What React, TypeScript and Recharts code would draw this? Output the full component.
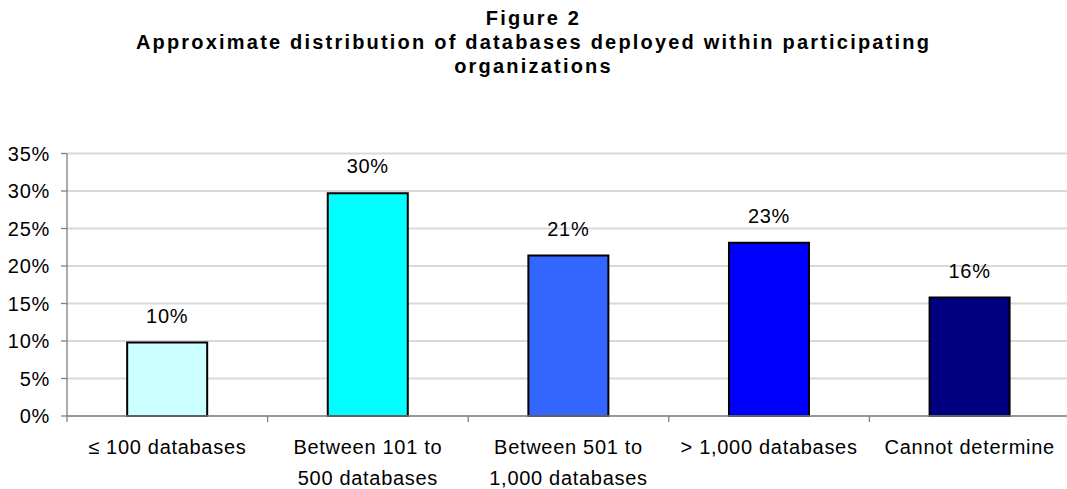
import React from "react";
import { BarChart, Bar, XAxis, YAxis, CartesianGrid, Cell, LabelList } from "recharts";

const titleLines = [
  "Figure 2",
  "Approximate distribution of databases deployed within participating",
  "organizations",
];
const categories = [
  "≤ 100 databases",
  "Between 101 to 500 databases",
  "Between 501 to 1,000 databases",
  "> 1,000 databases",
  "Cannot determine",
];
const categoryLines = [
  ["≤ 100 databases"],
  ["Between 101 to", "500 databases"],
  ["Between 501 to", "1,000 databases"],
  ["> 1,000 databases"],
  ["Cannot determine"],
];
const shares = [9.8, 29.7, 21.4, 23.1, 15.8];
const barColors = ["#CCFFFF", "#00FFFF", "#3366FF", "#0000FF", "#000080"];
const yTicks = [0, 5, 10, 15, 20, 25, 30, 35];

const data = categories.map((c, i) => ({ name: c, value: shares[i], lines: categoryLines[i] }));

const FONT = "'Liberation Sans', Arial, sans-serif";
const LS = 0.7;

const XTick = (props: any) => {
  const { x, y, payload, index } = props;
  const half = payload && payload.offset ? payload.offset : 100.3;
  const lines = categoryLines[index] || [String(payload.value)];
  return (
    <g>
      <line x1={x - half} x2={x - half} y1={y - 8} y2={y - 2} stroke="#808080" strokeWidth={1.3} />
      <text x={x} y={y} textAnchor="middle" fontFamily={FONT} fontSize={20} letterSpacing={LS} fill="#000">
        {lines.map((l: string, k: number) => (
          <tspan key={k} x={x} y={y + 30 + k * 31}>
            {l}
          </tspan>
        ))}
      </text>
    </g>
  );
};

export default function App() {
  return (
    <div style={{ position: "absolute", left: 0, top: 0, width: 1067, height: 489, overflow: "hidden", background: "#fff" }}>
      <div style={{ position: "absolute", left: 0, top: 0, width: 1067, textAlign: "center", fontFamily: FONT, fontWeight: "bold", fontSize: 20, lineHeight: "24px", paddingTop: 6, color: "#000", letterSpacing: 2.2 }}>
        {titleLines.map((t, i) => (
          <div key={i}>{t}</div>
        ))}
      </div>
      <div style={{ position: "absolute", left: 0, top: 0 }}>
        <BarChart
          width={1080}
          height={489}
          data={data}
          margin={{ top: 153.5, right: 10, left: 0, bottom: 0 }}
          barCategoryGap="30%"
        >
          <CartesianGrid vertical={false} stroke="#d9d9d9" strokeWidth={2} />
          <XAxis
            dataKey="name"
            height={73}
            axisLine={{ stroke: "#808080", strokeWidth: 1.3 }}
            tickLine={false}
            tick={<XTick />}
            interval={0}
          />
          <YAxis
            width={67}
            domain={[0, 35]}
            ticks={yTicks}
            interval={0}
            tickFormatter={(v: number) => `${v}%`}
            axisLine={{ stroke: "#808080", strokeWidth: 1.3 }}
            tickLine={{ stroke: "#808080", strokeWidth: 1.3 }}
            tickSize={6}
            tickMargin={11}
            tick={{ fontFamily: FONT, fontSize: 20, fill: "#000", letterSpacing: LS }}
          />
          <Bar dataKey="value" isAnimationActive={false} stroke="#000" strokeWidth={2}>
            {data.map((d, i) => (
              <Cell key={i} fill={barColors[i]} />
            ))}
            <LabelList
              dataKey="value"
              position="top"
              offset={20}
              formatter={(v: any) => `${Math.round(Number(v))}%`}
              style={{ fontFamily: FONT, fontSize: 20, fill: "#000", letterSpacing: LS }}
            />
          </Bar>
        </BarChart>
      </div>
    </div>
  );
}
